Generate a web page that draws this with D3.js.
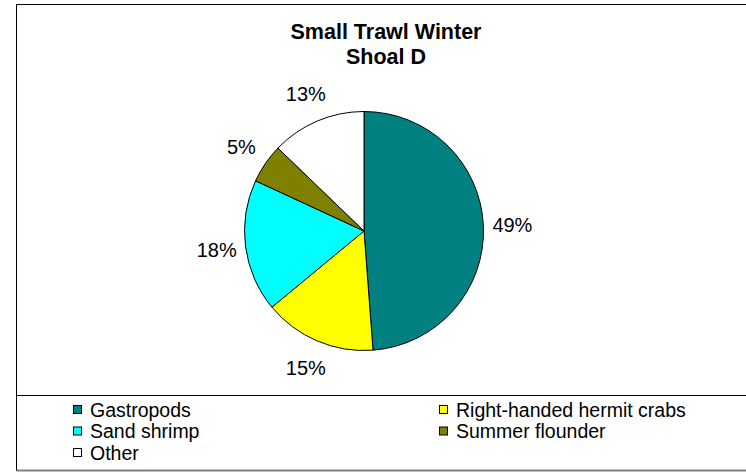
<!DOCTYPE html>
<html>
<head>
<meta charset="utf-8">
<script src="https://cdn.jsdelivr.net/npm/d3@7"></script>
<style>
  body { margin: 0; background: #fff; }
  text { font-family: "Liberation Sans", Arial, sans-serif; fill: #000; }
</style>
</head>
<body>
<div class="chart"></div>
<script>
var titleLines = ["Small Trawl Winter", "Shoal D"];
var categories = ["Gastropods", "Right-handed hermit crabs", "Sand shrimp", "Summer flounder", "Other"];
var shares = [48.8, 15.2, 17.9, 5.3, 12.8];
var colors = ["#008080", "#ffff00", "#00ffff", "#808000", "#ffffff"];

var width = 746, height = 474;
var cx = 364, cy = 231, radius = 119.5;

var svg = d3.select(".chart").append("svg")
    .attr("width", width)
    .attr("height", height);

// chart frame, legend divider
svg.append("rect")
    .attr("x", 16.5).attr("y", 4.5)
    .attr("width", 760).attr("height", 466)
    .attr("fill", "#fff").attr("stroke", "#000").attr("stroke-width", 1);
svg.append("line")
    .attr("x1", 16.5).attr("x2", 776)
    .attr("y1", 470.5).attr("y2", 470.5)
    .attr("stroke", "#808080").attr("stroke-width", 2);
svg.append("line")
    .attr("x1", 16.5).attr("x2", 776)
    .attr("y1", 395.5).attr("y2", 395.5)
    .attr("stroke", "#000");

// title
svg.append("g").selectAll("text")
    .data(titleLines)
    .enter().append("text")
    .attr("x", 386)
    .attr("y", function (d, i) { return 39 + i * 25; })
    .attr("text-anchor", "middle")
    .attr("font-size", 21.5)
    .attr("font-weight", "bold")
    .text(function (d) { return d; });

var data = categories.map(function (c, i) { return { name: c, value: shares[i] }; });

var color = d3.scaleOrdinal().domain(categories).range(colors);

var pie = d3.pie().sort(null).value(function (d) { return d.value; });
var arc = d3.arc().innerRadius(0).outerRadius(radius);
var labelArc = d3.arc().innerRadius(radius + 29).outerRadius(radius + 29);

var g = svg.append("g")
    .attr("transform", "translate(" + cx + "," + cy + ")");

var arcs = pie(data);

g.selectAll("path")
    .data(arcs)
    .enter().append("path")
    .attr("d", arc)
    .attr("fill", function (d) { return color(d.data.name); })
    .attr("stroke", "#000")
    .attr("stroke-width", 1);

g.selectAll(".lbl")
    .data(arcs)
    .enter().append("text")
    .attr("class", "lbl")
    .attr("transform", function (d) { return "translate(" + labelArc.centroid(d) + ")"; })
    .attr("text-anchor", "middle")
    .attr("dy", "0.35em")
    .attr("font-size", 20)
    .text(function (d) { return Math.round(d.data.value) + "%"; });

// legend, two columns
var legend = svg.append("g").selectAll("g")
    .data(categories)
    .enter().append("g")
    .attr("transform", function (d, i) {
        var col = i % 2, row = Math.floor(i / 2);
        return "translate(" + (col === 0 ? 73 : 439) + "," + (410 + row * 21.5) + ")";
    });

legend.append("rect")
    .attr("x", 0.5).attr("y", -4.5)
    .attr("width", 8).attr("height", 8)
    .attr("fill", function (d) { return color(d); })
    .attr("stroke", "#000");

legend.append("text")
    .attr("x", 17)
    .attr("dy", "0.35em")
    .attr("font-size", 19.5)
    .text(function (d) { return d; });
</script>
</body>
</html>
